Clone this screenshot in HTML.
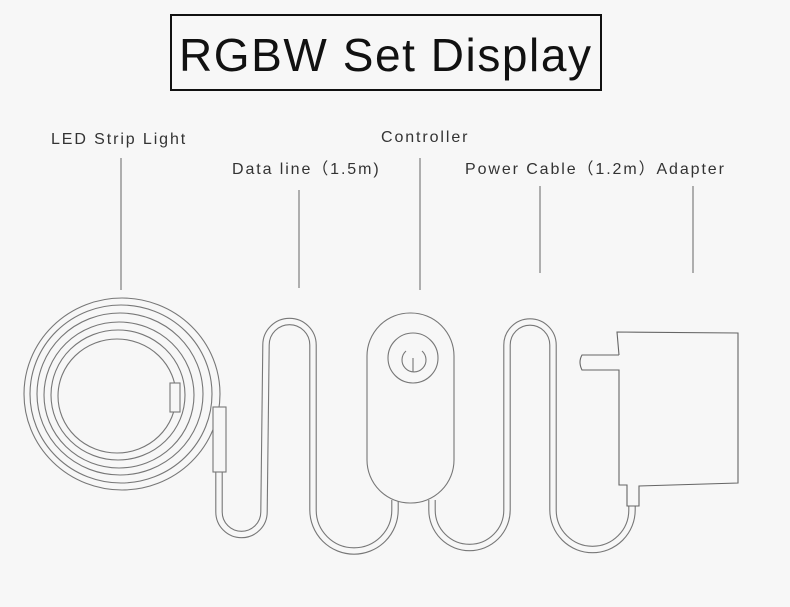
<!DOCTYPE html>
<html><head><meta charset="utf-8"><style>
body{margin:0;background:#f7f7f7;}
svg{display:block}
text{font-family:"Liberation Sans","Noto Sans CJK SC",sans-serif;fill:#333}
.l{letter-spacing:1.9px}
</style></head><body>
<svg width="790" height="607" viewBox="0 0 790 607" xmlns="http://www.w3.org/2000/svg">
<rect width="790" height="607" fill="#f7f7f7"/>
<rect x="171" y="15" width="430" height="75" fill="none" stroke="#111" stroke-width="2"/>
<text x="385" y="71" font-size="46" text-anchor="middle" textLength="412" style="fill:#111">RGBW Set Display</text>
<text class="l" x="51" y="144" font-size="16">LED Strip Light</text>
<text class="l" x="232" y="174" font-size="16">Data line（1.5m)</text>
<text class="l" x="381" y="142" font-size="16">Controller</text>
<text class="l" x="465" y="174" font-size="16">Power Cable（1.2m）Adapter</text>
<g stroke="#888" stroke-width="1.3">
<line x1="121" y1="158" x2="121" y2="290"/>
<line x1="299" y1="190" x2="299" y2="288"/>
<line x1="420" y1="158" x2="420" y2="290"/>
<line x1="540" y1="186" x2="540" y2="273"/>
<line x1="693" y1="186" x2="693" y2="273"/>
</g>
<g fill="none" stroke-linecap="butt">
<!-- coil -->
<g stroke="#777" stroke-width="1.1">
<ellipse cx="122" cy="394" rx="98" ry="96"/>
<ellipse cx="121" cy="394" rx="91" ry="89"/>
<ellipse cx="120" cy="394" rx="83" ry="81"/>
<ellipse cx="119" cy="395" rx="75" ry="73"/>
<ellipse cx="118" cy="395" rx="67" ry="65"/>
<ellipse cx="117" cy="396" rx="59" ry="57"/>
</g>
<rect x="170" y="383" width="10" height="29" fill="#f7f7f7" stroke="#777" stroke-width="1.1"/>
<!-- cables -->
<path d="M219 472 L219 512 A22.5 22.5 0 0 0 264 512 L266 345 A23.5 23.5 0 0 1 313 345 L313 510 A41 41 0 0 0 395 510 L395 500" stroke="#777" stroke-width="7.5"/>
<path d="M219 472 L219 512 A22.5 22.5 0 0 0 264 512 L266 345 A23.5 23.5 0 0 1 313 345 L313 510 A41 41 0 0 0 395 510 L395 500" stroke="#f7f7f7" stroke-width="5.3"/>
<path d="M432 500 L432 510 A37.5 37.5 0 0 0 507 510 L507 345 A23 23 0 0 1 553 345 L553 510 A39.5 39.5 0 0 0 632 510 L632 505" stroke="#777" stroke-width="7.5"/>
<path d="M432 500 L432 510 A37.5 37.5 0 0 0 507 510 L507 345 A23 23 0 0 1 553 345 L553 510 A39.5 39.5 0 0 0 632 510 L632 505" stroke="#f7f7f7" stroke-width="5.3"/>
<rect x="213" y="407" width="13" height="65" fill="#f7f7f7" stroke="#777" stroke-width="1.1"/>
<!-- controller -->
<rect x="367" y="313" width="87" height="190" rx="43" fill="#f7f7f7" stroke="#777" stroke-width="1.1"/>
<circle cx="413" cy="358" r="25" stroke="#777" stroke-width="1.1"/>
<path d="M406 351 A12 12 0 1 0 422 351" stroke="#777" stroke-width="1.1"/>
<line x1="413" y1="358" x2="413" y2="372" stroke="#777" stroke-width="1.1"/>
<!-- adapter -->
<path d="M619 355 L582 355 Q578 362 582 370 L619 370 L619 485 L627 485 L627 506 L639 506 L639 486 L738 483 L738 333 L617 332 L619 355" fill="#f7f7f7" stroke="#666" stroke-width="1.1"/>
</g>
</svg>
</body></html>
